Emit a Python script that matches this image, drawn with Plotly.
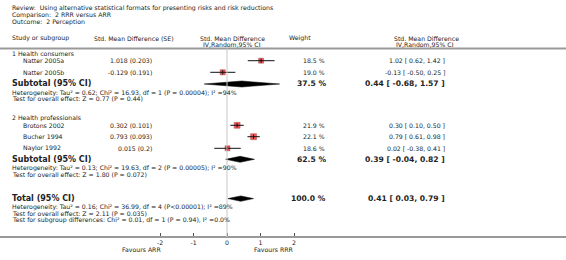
import plotly.graph_objects as go

# ---------------- data ----------------
title_lines = ["Review:  Using alternative statistical formats for presenting risks and risk reductions",
               "Comparison:  2 RRR versus ARR",
               "Outcome:  2 Perception"]
groups = ["1 Health consumers", "2 Health professionals"]
studies = ["Natter 2005a", "Natter 2005b", "Brotons 2002", "Bucher 1994", "Naylor 1992"]
smd = [1.018, -0.129, 0.302, 0.793, 0.015]
se = [0.203, 0.191, 0.101, 0.093, 0.2]
weights = [18.5, 19.0, 21.9, 22.1, 18.6]
est = [1.02, -0.13, 0.30, 0.79, 0.02]
ci_lo = [0.62, -0.50, 0.10, 0.61, -0.38]
ci_hi = [1.42, 0.25, 0.50, 0.98, 0.41]

sub_est = [0.44, 0.39]
sub_lo = [-0.68, -0.04]
sub_hi = [1.57, 0.82]
sub_weight = [37.5, 62.5]
sub_het = ["Heterogeneity: Tau² = 0.62; Chi² = 16.93, df = 1 (P = 0.00004); I² =94%",
           "Heterogeneity: Tau² = 0.13; Chi² = 19.63, df = 2 (P = 0.00005); I² =90%"]
sub_test = ["Test for overall effect: Z = 0.77 (P = 0.44)",
            "Test for overall effect: Z = 1.80 (P = 0.072)"]

tot_est, tot_lo, tot_hi, tot_weight = 0.41, 0.03, 0.79, 100.0
tot_lines = ["Heterogeneity: Tau² = 0.16; Chi² = 36.99, df = 4 (P<0.00001); I² =89%",
             "Test for overall effect: Z = 2.11 (P = 0.035)",
             "Test for subgroup differences: Chi² = 0.01, df = 1 (P = 0.94), I² =0.0%"]

tick_vals = [-2, -1, 0, 1, 2]
tick_text = ["-2", "-1", "0", "1", "2"]
favours = ["Favours ARR", "Favours RRR"]

# ---------------- layout geometry (pixels) ----------------
W, H = 566, 260
X0PX, UNIT = 227.0, 33.5      # pixel of x=0, pixels per unit
AXIS_Y = 237.0
FONT = "DejaVu Sans"
FS = 6.2
FSB = 7.6
FSL = 8.0
COL = "#222222"

group_y = [53.5, 118.3]
study_y = [60.7, 72.3, 125.3, 136.7, 148.3]
sub_y = [84.0, 159.3]
het_y = [[92.6, 98.7], [167.6, 174]]
tot_y = 198.6
tot_line_y = [207.2, 213.2, 219.6]

def px(p):
    return p / W

def py(p):
    return 1 - p / H

ann = []
def txt(s, x, y, anchor="left", size=FS, bold=False):
    ann.append(dict(text=("<b>%s</b>" % s) if bold else s, x=px(x), y=py(y), xref="paper", yref="paper",
                    xanchor=anchor, yanchor="middle", showarrow=False, borderpad=0,
                    font=dict(family=FONT, size=size, color=COL)))

for i, t in enumerate(title_lines):
    txt(t, 11, 8.5 + 6.5 * i, size=6.2)

txt("Study or subgroup", 11, 38)
txt("Std. Mean Difference (SE)", 93, 38)
txt("Std. Mean Difference", 232, 38, "center")
txt("IV,Random,95% CI", 232, 44, "center")
txt("Weight", 300, 38, "center")
txt("Std. Mean Difference", 393, 38)
txt("IV,Random,95% CI", 395, 44)

for g, name in enumerate(groups):
    txt(name, 11, group_y[g])
for i, s in enumerate(studies):
    txt(s, 22, study_y[i])
    txt("%s (%s)" % (str(smd[i]), str(se[i])), 153, study_y[i], "right")
    txt("%.1f %%" % weights[i], 326, study_y[i], "right")
    txt("%.2f [ %.2f, %.2f ]" % (est[i], ci_lo[i], ci_hi[i]), 446, study_y[i], "right")

for g in range(2):
    txt("Subtotal (95% CI)", 11, sub_y[g], size=FSL, bold=True)
    txt("%.1f %%" % sub_weight[g], 327, sub_y[g], "right", size=FSB, bold=True)
    txt("%.2f [ %.2f, %.2f ]" % (sub_est[g], sub_lo[g], sub_hi[g]), 446, sub_y[g], "right", size=FSB, bold=True)
    txt(sub_het[g], 11, het_y[g][0])
    txt(sub_test[g], 11, het_y[g][1])

txt("Total (95% CI)", 11, tot_y, size=FSL, bold=True)
txt("%.1f %%" % tot_weight, 327, tot_y, "right", size=FSB, bold=True)
txt("%.2f [ %.2f, %.2f ]" % (tot_est, tot_lo, tot_hi), 446, tot_y, "right", size=FSB, bold=True)
for i, t in enumerate(tot_lines):
    txt(t, 11, tot_line_y[i])

txt(favours[0], 141, 249, "center")
txt(favours[1], 273, 249, "center")

fig = go.Figure()

ci_x, ci_y = [], []
for i in range(len(studies)):
    ci_x += [ci_lo[i], ci_hi[i], None]
    ci_y += [study_y[i], study_y[i], None]

fig.add_trace(go.Scatter(x=smd, y=study_y, mode="markers",
                         marker=dict(symbol="square", color="#ee1111", size=[w * 0.27 for w in weights],
                                     line=dict(color="#880000", width=0.5)),
                         hoverinfo="skip", showlegend=False))
fig.add_trace(go.Scatter(x=ci_x, y=ci_y, mode="lines", line=dict(color="#111111", width=1),
                         hoverinfo="skip", showlegend=False))
fig.add_trace(go.Scatter(x=smd, y=study_y, mode="markers",
                         marker=dict(symbol="line-ns", size=3, line=dict(color="#111111", width=1)),
                         hoverinfo="skip", showlegend=False))

def diamond(lo, e, hi, yc, h):
    fig.add_trace(go.Scatter(x=[lo, e, hi, e, lo], y=[yc, yc - h, yc, yc + h, yc], mode="lines",
                             fill="toself", fillcolor="#000000", line=dict(color="#000000", width=0.5),
                             hoverinfo="skip", showlegend=False))

for g in range(2):
    diamond(sub_lo[g], sub_est[g], sub_hi[g], sub_y[g], 3)
diamond(tot_lo, tot_est, tot_hi, tot_y, 2.7)

xr = [(0 - X0PX) / UNIT, (W - X0PX) / UNIT]

shapes = [
    dict(type="line", xref="paper", yref="y", x0=0, x1=1, y0=48.5, y1=48.5, line=dict(color="#999999", width=2)),
    dict(type="line", xref="x", yref="y", x0=0, x1=0, y0=48.5, y1=AXIS_Y, line=dict(color="#c8c8c8", width=1)),
]

fig.update_layout(
    width=W, height=H, margin=dict(l=0, r=0, t=0, b=0),
    paper_bgcolor="white", plot_bgcolor="white",
    annotations=ann, shapes=shapes,
    xaxis=dict(range=xr, domain=[0, 1], anchor="free", position=py(AXIS_Y),
               showgrid=False, zeroline=False, showline=True, linecolor="#999999", linewidth=2,
               tickmode="array", tickvals=tick_vals, ticktext=tick_text, ticks="inside", ticklen=3,
               tickcolor="#555555", tickwidth=1,
               tickfont=dict(family=FONT, size=FS, color=COL)),
    yaxis=dict(range=[H, 0], domain=[0, 1], visible=False, showgrid=False, zeroline=False),
)

fig.write_html("out.html", config={"displayModeBar": False, "staticPlot": True},
               post_script="document.body.style.margin='0';")
